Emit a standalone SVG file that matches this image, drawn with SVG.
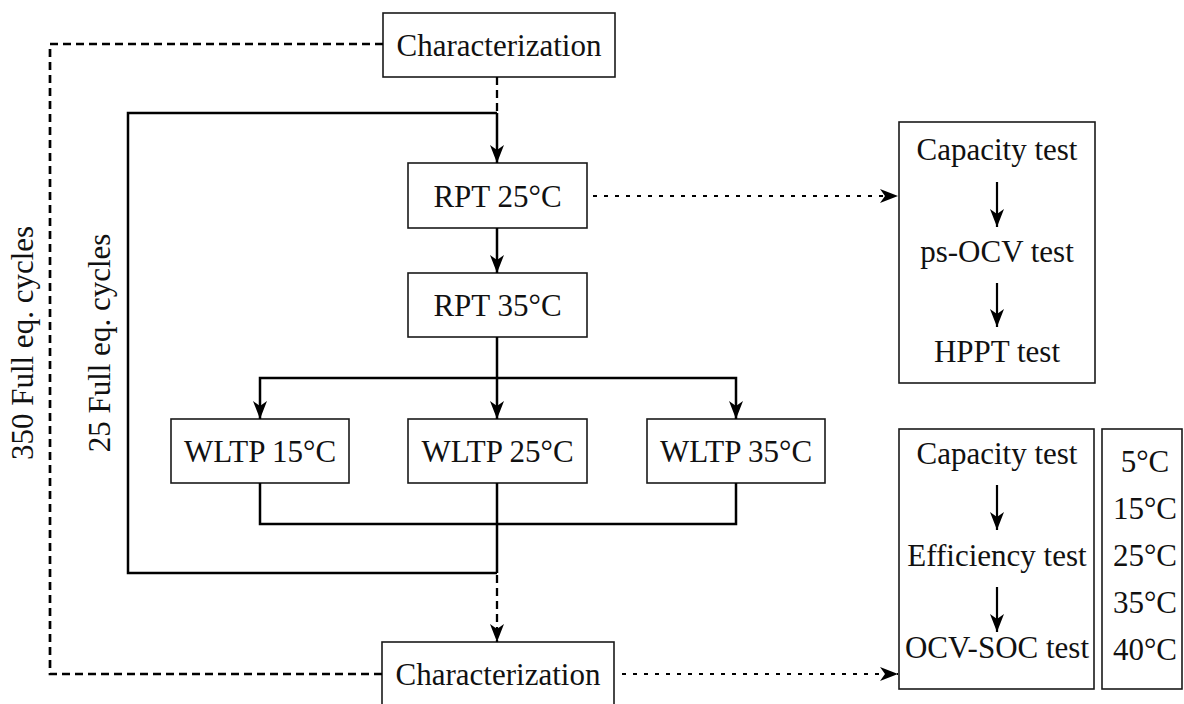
<svg xmlns="http://www.w3.org/2000/svg" width="1184" height="704" viewBox="0 0 1184 704">
<defs>
<marker id="ah" markerUnits="userSpaceOnUse" markerWidth="22" markerHeight="18" viewBox="-20 -9 21 18" refX="0" refY="0" orient="auto">
<path d="M0,0 L-18,-7 L-13,0 L-18,7 Z" fill="#000"/>
</marker>
<style>
.box{fill:#fff;stroke:#1a1a1a;stroke-width:1.6}
.t{font-family:"Liberation Serif","Times New Roman",serif;font-size:31px;fill:#111;text-anchor:middle}
.solid{fill:none;stroke:#000;stroke-width:2.5}
.thin{fill:none;stroke:#000;stroke-width:2.2}
.dash{fill:none;stroke:#000;stroke-width:2.7;stroke-dasharray:8 5}
.dashv{fill:none;stroke:#000;stroke-width:2.3;stroke-dasharray:8 5}
.dot{fill:none;stroke:#000;stroke-width:2.1;stroke-dasharray:4 7}
</style>
</defs>
<g id="char-top"><rect class="box" x="383" y="13" width="232" height="64"/><text class="t" x="499" y="56">Characterization</text></g>
<g id="rpt25"><rect class="box" x="408" y="163" width="179" height="65"/><text class="t" x="497.5" y="207">RPT 25°C</text></g>
<g id="rpt35"><rect class="box" x="408" y="273" width="179" height="64"/><text class="t" x="497.5" y="316">RPT 35°C</text></g>
<g id="wltp15"><rect class="box" x="171" y="419" width="178" height="64"/><text class="t" x="260" y="462">WLTP 15°C</text></g>
<g id="wltp25"><rect class="box" x="408" y="419" width="179" height="64"/><text class="t" x="497.5" y="462">WLTP 25°C</text></g>
<g id="wltp35"><rect class="box" x="647" y="419" width="178" height="64"/><text class="t" x="736" y="462">WLTP 35°C</text></g>
<g id="char-bottom"><rect class="box" x="382" y="642" width="232" height="64"/><text class="t" x="498" y="685">Characterization</text></g>
<g id="rpt-tests"><rect class="box" x="899" y="122" width="196" height="261"/>
<text class="t" x="997" y="160">Capacity test</text>
<text class="t" x="997" y="262">ps-OCV test</text>
<text class="t" x="997" y="362">HPPT test</text></g>
<g id="char-tests"><rect class="box" x="899" y="429" width="195" height="260"/>
<text class="t" x="997" y="464">Capacity test</text>
<text class="t" x="997" y="566">Efficiency test</text>
<text class="t" x="997" y="658">OCV-SOC test</text></g>
<g id="temps"><rect class="box" x="1102" y="429" width="80" height="260"/>
<text class="t" x="1145" y="472">5°C</text>
<text class="t" x="1145" y="519">15°C</text>
<text class="t" x="1145" y="566">25°C</text>
<text class="t" x="1145" y="613">35°C</text>
<text class="t" x="1145" y="660">40°C</text></g>
<g id="labels">
<text class="t" transform="translate(33,343) rotate(-90)">350 Full eq. cycles</text>
<text class="t" transform="translate(110,343) rotate(-90)">25 Full eq. cycles</text>
</g>
<g id="connectors">
<path class="dash" d="M383,44 H50 V674 H382"/>
<path class="dashv" d="M497,77 V113"/>
<path class="solid" d="M497,573 H128 V113 H497"/>
<path class="solid" d="M497,113 V163" marker-end="url(#ah)"/>
<path class="solid" d="M497,228 V273" marker-end="url(#ah)"/>
<path class="solid" d="M497,337 V419" marker-end="url(#ah)"/>
<path class="solid" d="M497,378 H260 V419" marker-end="url(#ah)"/>
<path class="solid" d="M497,378 H736 V419" marker-end="url(#ah)"/>
<path class="solid" d="M260,483 V524 H736 V483"/>
<path class="solid" d="M497,483 V573"/>
<path class="dashv" d="M497,575 V642" marker-end="url(#ah)"/>
<path class="dot" d="M593,196 H898" marker-end="url(#ah)"/>
<path class="dot" d="M622,674 H898" marker-end="url(#ah)"/>
<path class="thin" d="M997,182 V227" marker-end="url(#ah)"/>
<path class="thin" d="M997,283 V327" marker-end="url(#ah)"/>
<path class="thin" d="M997,485 V530" marker-end="url(#ah)"/>
<path class="thin" d="M997,587 V632" marker-end="url(#ah)"/>
</g>
</svg>
